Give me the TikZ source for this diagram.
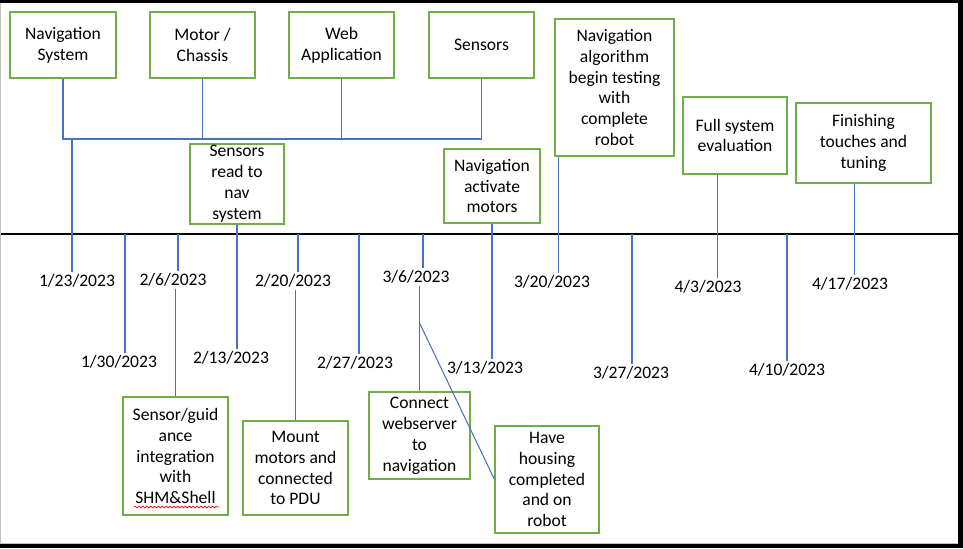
\documentclass[tikz,border=0pt]{standalone}
\usepackage{fontspec}
\setmainfont{Carlito}
\usetikzlibrary{decorations.pathmorphing}
\definecolor{boxgreen}{HTML}{70AD47}
\definecolor{linkblue}{HTML}{4472C4}
\tikzset{
    taskbox/.style={draw=boxgreen, line width=0.6pt, align=center, inner sep=0pt, font=\fontsize{10}{11.9}\selectfont},
    datelabel/.style={inner sep=1pt, font=\fontsize{10}{11.9}\selectfont},
    bluelink/.style={draw=linkblue, line width=0.6pt}
}

\begin{document}
\begin{tikzpicture}[x=0.02cm, y=-0.02cm]
    \useasboundingbox (0,0) rectangle (963,548);
    \fill[black] (0,0) rectangle (963,548);
    \fill[white] (1,3) rectangle (958,544);
    \fill[gray!50] (0,3) rectangle (1,544);
    \fill[gray!50] (0,543) rectangle (958,544);

    \node[taskbox, minimum width=2.12cm, minimum height=1.32cm] (navsys) at (63,45) {Navigation\\System};
    \node[taskbox, minimum width=2.1cm, minimum height=1.32cm] (motor) at (202.5,45) {Motor /\\Chassis};
    \node[taskbox, minimum width=2.1cm, minimum height=1.32cm] (webapp) at (341.5,45) {Web\\Application};
    \node[taskbox, minimum width=2.1cm, minimum height=1.32cm] (sensors) at (481.5,45) {Sensors};
    \node[taskbox, minimum width=1.88cm, minimum height=1.6cm] (sensread) at (237,184) {Sensors\\read to\\nav\\system};
    \node[taskbox, minimum width=1.92cm, minimum height=1.48cm] (navact) at (492,186) {Navigation\\activate\\motors};
    \node[taskbox, minimum width=2.38cm, minimum height=2.74cm] (navalgo) at (614.5,87.5) {Navigation\\algorithm\\begin testing\\with\\complete\\robot};
    \node[taskbox, minimum width=2.08cm, minimum height=1.54cm] (fullsys) at (735,135.5) {Full system\\evaluation};
    \node[taskbox, minimum width=2.7cm, minimum height=1.6cm] (finish) at (863.5,143) {Finishing\\touches and\\tuning};
    \node[taskbox, minimum width=2.1cm, minimum height=2.36cm] (sensguid) at (175.5,456) {Sensor/guid\\ance\\integration\\with\\SHM\&Shell};
    \node[taskbox, minimum width=2.1cm, minimum height=1.88cm] (mount) at (295.5,468) {Mount\\motors and\\connected\\to PDU};
    \node[taskbox, minimum width=2.02cm, minimum height=1.74cm] (connect) at (419.5,435.5) {Connect\\webserver\\to\\navigation};
    \node[taskbox, minimum width=2.08cm, minimum height=2.14cm] (housing) at (547,479.5) {Have\\housing\\completed\\and on\\robot};

    \node[datelabel] (d0123) at (77,281) {1/23/2023};
    \node[datelabel] (d0130) at (119,362) {1/30/2023};
    \node[datelabel] (d0206) at (173,280) {2/6/2023};
    \node[datelabel] (d0213) at (231,358) {2/13/2023};
    \node[datelabel] (d0220) at (293,281) {2/20/2023};
    \node[datelabel] (d0227) at (355,363) {2/27/2023};
    \node[datelabel] (d0306) at (416,277) {3/6/2023};
    \node[datelabel] (d0313) at (485,368) {3/13/2023};
    \node[datelabel] (d0320) at (552,282) {3/20/2023};
    \node[datelabel] (d0327) at (631,373) {3/27/2023};
    \node[datelabel] (d0403) at (708,287) {4/3/2023};
    \node[datelabel] (d0410) at (787,370) {4/10/2023};
    \node[datelabel] (d0417) at (850,284) {4/17/2023};

    \coordinate (axisL) at (1,234);
    \coordinate (axisR) at (958,234);
    \draw[line width=0.6pt] (axisL) -- (axisR);

    \coordinate (join) at (72,139);
    \draw[bluelink] (navsys.south) -- (navsys.south |- join) -- (sensors.south |- join) -- (sensors.south);
    \draw[bluelink] (motor.south) -- (motor.south |- join);
    \draw[bluelink] (webapp.south) -- (webapp.south |- join);
    \draw[bluelink] (join) -- (join |- d0123.north);

    \foreach \x/\d in {125/d0130, 178/d0206, 298/d0220, 359/d0227, 423/d0306, 632/d0327, 787/d0410} {
        \coordinate (tick-\d) at (\x,234);
        \draw[bluelink] (tick-\d) -- (tick-\d |- \d.north);
    }

    \draw[bluelink] (sensread.south) -- (sensread.south |- d0213.north);
    \draw[bluelink] (navact.south) -- (navact.south |- d0313.north);
    \coordinate (algofoot) at ([xshift=0.08cm]navalgo.south west);
    \draw[bluelink] (algofoot) -- (algofoot |- d0320.north);
    \coordinate (evalfoot) at ([xshift=0.7cm]fullsys.south west);
    \draw[bluelink] (evalfoot) -- (evalfoot |- d0403.north);
    \coordinate (tunefoot) at ([xshift=1.18cm]finish.south west);
    \draw[bluelink] (tunefoot) -- (tunefoot |- d0417.north);

    \draw[bluelink] (sensguid.north |- d0206.south) -- (sensguid.north);
    \draw[bluelink] (mount.north |- d0220.south) -- (mount.north);
    \draw[bluelink] (connect.north |- d0306.south) -- (connect.north);
    \coordinate (fork) at (420,324);
    \draw[bluelink] (fork) -- (housing.west);

    \draw[red, line width=0.4pt, decorate, decoration={snake, amplitude=0.5pt, segment length=2.2pt}] (134,507) -- (219,507);
\end{tikzpicture}
\end{document}
